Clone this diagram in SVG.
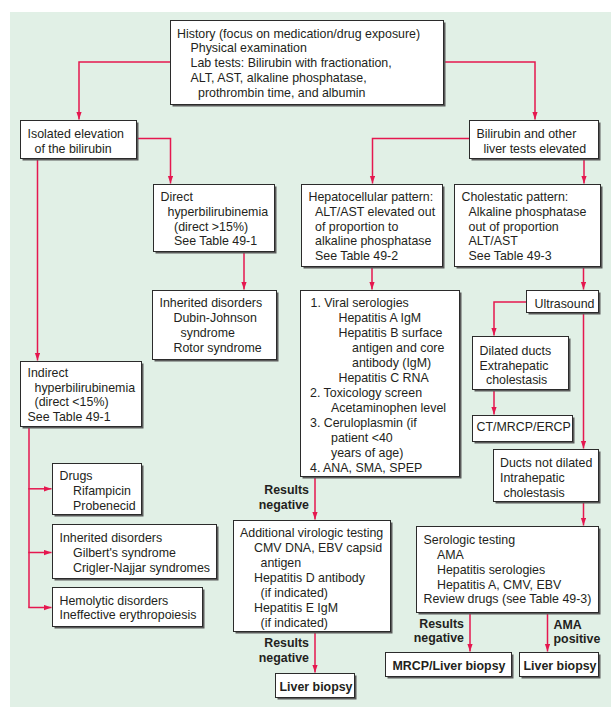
<svg xmlns="http://www.w3.org/2000/svg" width="615" height="709" viewBox="0 0 615 709">
<defs>
<style>
.bg{fill:#e1f0e6}
.sh{fill:#5a5a5a}
.bx{fill:#ffffff;stroke:#2b2b2b;stroke-width:1}
.t{font-family:"Liberation Sans",Arial,sans-serif;font-size:12.4px;fill:#231f20}
.b{font-family:"Liberation Sans",Arial,sans-serif;font-size:12.4px;font-weight:bold;fill:#231f20}
.c{fill:none;stroke:#e5174f;stroke-width:1.5}
</style>
<marker id="ah" markerUnits="userSpaceOnUse" markerWidth="9" markerHeight="6" refX="8" refY="2.8" orient="auto">
<path d="M0,0 L8,2.8 L0,5.6 z" fill="#e5174f"/>
</marker>
</defs>
<rect class="bg" x="10" y="12" width="601" height="695"/>

<g id="connectors">
<path class="c" d="M170.5,62 H79 V119.5" marker-end="url(#ah)"/>
<path class="c" d="M443.5,62 H535 V119.5" marker-end="url(#ah)"/>
<path class="c" d="M136.5,138.5 H170.5 V183.5" marker-end="url(#ah)"/>
<path class="c" d="M37.5,158.5 V360.5" marker-end="url(#ah)"/>
<path class="c" d="M469.5,138.5 H372.5 V183.5" marker-end="url(#ah)"/>
<path class="c" d="M584,158.5 V183.5" marker-end="url(#ah)"/>
<path class="c" d="M244,251.5 V289.5" marker-end="url(#ah)"/>
<path class="c" d="M372,266.5 V289.5" marker-end="url(#ah)"/>
<path class="c" d="M583.5,266.5 V289.5" marker-end="url(#ah)"/>
<path class="c" d="M526.5,302 H494 V335.5" marker-end="url(#ah)"/>
<path class="c" d="M583.5,312.5 V448.5" marker-end="url(#ah)"/>
<path class="c" d="M494,389.5 V414.5" marker-end="url(#ah)"/>
<path class="c" d="M583.5,501.5 V525.5" marker-end="url(#ah)"/>
<path class="c" d="M29,426.5 V607.5"/>
<path class="c" d="M28.25,488.8 H51.5" marker-end="url(#ah)"/>
<path class="c" d="M28.25,552.5 H51.5" marker-end="url(#ah)"/>
<path class="c" d="M28.25,607.5 H51.5" marker-end="url(#ah)"/>
<path class="c" d="M315,476.5 V519.5" marker-end="url(#ah)"/>
<path class="c" d="M315,631.5 V672.5" marker-end="url(#ah)"/>
<path class="c" d="M470,612.5 V651.5" marker-end="url(#ah)"/>
<path class="c" d="M547.5,612.5 V651.5" marker-end="url(#ah)"/>
<text class="b" text-anchor="end"><tspan x="309" y="494">Results</tspan><tspan x="309" y="509">negative</tspan></text>
<text class="b" text-anchor="end"><tspan x="309" y="647">Results</tspan><tspan x="309" y="662">negative</tspan></text>
<text class="b" text-anchor="end"><tspan x="464" y="627.5">Results</tspan><tspan x="464" y="642">negative</tspan></text>
<text class="b"><tspan x="553.5" y="628.5">AMA</tspan><tspan x="553.5" y="643">positive</tspan></text>
</g>

<g id="history">
<rect class="sh" x="172.5" y="22.5" width="273" height="84"/>
<rect class="bx" x="170.5" y="20.5" width="273" height="84"/>
<text class="t"><tspan x="177" y="37.5">History (focus on medication/drug exposure)</tspan><tspan x="190.5" y="52">Physical examination</tspan><tspan x="190.5" y="67">Lab tests: Bilirubin with fractionation,</tspan><tspan x="190.5" y="82">ALT, AST, alkaline phosphatase,</tspan><tspan x="198" y="96.5">prothrombin time, and albumin</tspan></text>
</g>

<g id="isolated">
<rect class="sh" x="22.5" y="122.5" width="116" height="38"/>
<rect class="bx" x="20.5" y="120.5" width="116" height="38"/>
<text class="t"><tspan x="27.5" y="138">Isolated elevation</tspan><tspan x="34.5" y="152.5">of the bilirubin</tspan></text>
</g>

<g id="bilirubin">
<rect class="sh" x="471.5" y="122.5" width="129" height="38"/>
<rect class="bx" x="469.5" y="120.5" width="129" height="38"/>
<text class="t"><tspan x="476.5" y="138">Bilirubin and other</tspan><tspan x="483.5" y="152.5">liver tests elevated</tspan></text>
</g>

<g id="direct">
<rect class="sh" x="155.5" y="186.5" width="121" height="67"/>
<rect class="bx" x="153.5" y="184.5" width="121" height="67"/>
<text class="t"><tspan x="160.5" y="201">Direct</tspan><tspan x="167.5" y="216">hyperbilirubinemia</tspan><tspan x="174" y="230.5">(direct &gt;15%)</tspan><tspan x="174" y="245">See Table 49-1</tspan></text>
</g>

<g id="inherited1">
<rect class="sh" x="154.5" y="292.5" width="124" height="69"/>
<rect class="bx" x="152.5" y="290.5" width="124" height="69"/>
<text class="t"><tspan x="159.5" y="307">Inherited disorders</tspan><tspan x="173.5" y="322">Dubin-Johnson</tspan><tspan x="180.5" y="337">syndrome</tspan><tspan x="173.5" y="351.5">Rotor syndrome</tspan></text>
</g>

<g id="hepatocellular">
<rect class="sh" x="303.5" y="186.5" width="141" height="82"/>
<rect class="bx" x="301.5" y="184.5" width="141" height="82"/>
<text class="t"><tspan x="308.5" y="201">Hepatocellular pattern:</tspan><tspan x="315" y="216">ALT/AST elevated out</tspan><tspan x="315" y="230.5">of proportion to</tspan><tspan x="315" y="245">alkaline phosphatase</tspan><tspan x="315" y="259.5">See Table 49-2</tspan></text>
</g>

<g id="cholestatic">
<rect class="sh" x="456.5" y="186.5" width="146" height="82"/>
<rect class="bx" x="454.5" y="184.5" width="146" height="82"/>
<text class="t"><tspan x="461.5" y="201">Cholestatic pattern:</tspan><tspan x="468.5" y="216">Alkaline phosphatase</tspan><tspan x="468.5" y="230.5">out of proportion</tspan><tspan x="468.5" y="245">ALT/AST</tspan><tspan x="468.5" y="259.5">See Table 49-3</tspan></text>
</g>

<g id="ultrasound">
<rect class="sh" x="528.5" y="292.5" width="72" height="22"/>
<rect class="bx" x="526.5" y="290.5" width="72" height="22"/>
<text class="t" x="534.5" y="307.5">Ultrasound</text>
</g>

<g id="viral">
<rect class="sh" x="302.5" y="292.5" width="159" height="186"/>
<rect class="bx" x="300.5" y="290.5" width="159" height="186"/>
<text class="t"><tspan x="310.5" y="307">1. Viral serologies</tspan><tspan x="338.5" y="322">Hepatitis A IgM</tspan><tspan x="338.5" y="337">Hepatitis B surface</tspan><tspan x="352" y="352">antigen and core</tspan><tspan x="352" y="367">antibody (IgM)</tspan><tspan x="338.5" y="382">Hepatitis C RNA</tspan><tspan x="310" y="397">2. Toxicology screen</tspan><tspan x="331" y="412">Acetaminophen level</tspan><tspan x="310" y="427">3. Ceruloplasmin (if</tspan><tspan x="331" y="442">patient &lt;40</tspan><tspan x="331" y="457">years of age)</tspan><tspan x="310" y="472">4. ANA, SMA, SPEP</tspan></text>
</g>

<g id="dilated">
<rect class="sh" x="474.5" y="338.5" width="96" height="53"/>
<rect class="bx" x="472.5" y="336.5" width="96" height="53"/>
<text class="t"><tspan x="479.5" y="355">Dilated ducts</tspan><tspan x="479.5" y="369.5">Extrahepatic</tspan><tspan x="486" y="384">cholestasis</tspan></text>
</g>

<g id="ct">
<rect class="sh" x="474.5" y="417.5" width="100" height="26"/>
<rect class="bx" x="472.5" y="415.5" width="100" height="26"/>
<text class="t" x="476.5" y="431">CT/MRCP/ERCP</text>
</g>

<g id="ducts">
<rect class="sh" x="495.5" y="451.5" width="105" height="52"/>
<rect class="bx" x="493.5" y="449.5" width="105" height="52"/>
<text class="t"><tspan x="500" y="467">Ducts not dilated</tspan><tspan x="500" y="481.5">Intrahepatic</tspan><tspan x="503.5" y="497">cholestasis</tspan></text>
</g>

<g id="indirect">
<rect class="sh" x="22.5" y="363.5" width="121" height="65"/>
<rect class="bx" x="20.5" y="361.5" width="121" height="65"/>
<text class="t"><tspan x="27.5" y="377">Indirect</tspan><tspan x="34.5" y="391.5">hyperbilirubinemia</tspan><tspan x="34.5" y="406">(direct &lt;15%)</tspan><tspan x="27.5" y="420.5">See Table 49-1</tspan></text>
</g>

<g id="drugs">
<rect class="sh" x="54.5" y="465.5" width="89" height="51"/>
<rect class="bx" x="52.5" y="463.5" width="89" height="51"/>
<text class="t"><tspan x="59.5" y="480">Drugs</tspan><tspan x="73" y="495">Rifampicin</tspan><tspan x="73" y="510">Probenecid</tspan></text>
</g>

<g id="inherited2">
<rect class="sh" x="54.5" y="526.5" width="164" height="54"/>
<rect class="bx" x="52.5" y="524.5" width="164" height="54"/>
<text class="t"><tspan x="59.5" y="542">Inherited disorders</tspan><tspan x="73" y="557">Gilbert's syndrome</tspan><tspan x="73" y="571.5">Crigler-Najjar syndromes</tspan></text>
</g>

<g id="hemolytic">
<rect class="sh" x="54.5" y="589.5" width="150" height="39"/>
<rect class="bx" x="52.5" y="587.5" width="150" height="39"/>
<text class="t"><tspan x="59.5" y="604.5">Hemolytic disorders</tspan><tspan x="59.5" y="619">Ineffective erythropoiesis</tspan></text>
</g>

<g id="additional">
<rect class="sh" x="235.5" y="522.5" width="157" height="111"/>
<rect class="bx" x="233.5" y="520.5" width="157" height="111"/>
<text class="t"><tspan x="240" y="537">Additional virologic testing</tspan><tspan x="254" y="552">CMV DNA, EBV capsid</tspan><tspan x="260.5" y="567">antigen</tspan><tspan x="254" y="582">Hepatitis D antibody</tspan><tspan x="260.5" y="597">(if indicated)</tspan><tspan x="254" y="612">Hepatitis E IgM</tspan><tspan x="260.5" y="627">(if indicated)</tspan></text>
</g>

<g id="liver1">
<rect class="sh" x="277.5" y="675.5" width="79" height="24"/>
<rect class="bx" x="275.5" y="673.5" width="79" height="24"/>
<text class="b" x="279.5" y="691">Liver biopsy</text>
</g>

<g id="serologic">
<rect class="sh" x="418.5" y="528.5" width="182" height="86"/>
<rect class="bx" x="416.5" y="526.5" width="182" height="86"/>
<text class="t"><tspan x="423.5" y="543.5">Serologic testing</tspan><tspan x="437" y="558.5">AMA</tspan><tspan x="437" y="573.5">Hepatitis serologies</tspan><tspan x="437" y="588.5">Hepatitis A, CMV, EBV</tspan><tspan x="423.5" y="603">Review drugs (see Table 49-3)</tspan></text>
</g>

<g id="mrcp">
<rect class="sh" x="387.5" y="654.5" width="126" height="24"/>
<rect class="bx" x="385.5" y="652.5" width="126" height="24"/>
<text class="b" x="392.5" y="670">MRCP/Liver biopsy</text>
</g>

<g id="liver2">
<rect class="sh" x="521.5" y="654.5" width="79" height="24"/>
<rect class="bx" x="519.5" y="652.5" width="79" height="24"/>
<text class="b" x="523.5" y="670">Liver biopsy</text>
</g>
</svg>
